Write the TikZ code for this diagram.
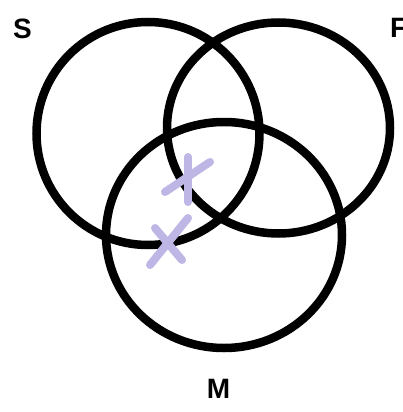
\documentclass[tikz,border=0pt]{standalone}
\usepackage{fontspec}
\setmainfont{Liberation Sans}
\definecolor{lavender}{RGB}{190,182,228}
\tikzset{
  ring/.style={line width=8.5pt},
  tick/.style={lavender,line width=8pt,line cap=round},
  setname/.style={font=\bfseries\fontsize{28}{28}\selectfont,inner sep=0pt}
}
\begin{document}
\begin{tikzpicture}[x=1pt,y=-1pt]
\useasboundingbox (0,0) rectangle (403,412);

\coordinate (cS) at (148,133.5);
\coordinate (cF) at (278.5,128);
\coordinate (cM) at (224,235);

\draw[ring] (cS) circle [radius=111.5];
\draw[ring] (cF) ellipse [x radius=111.5,y radius=105.5];
\draw[ring] (cM) ellipse [x radius=118,y radius=113];

\node[setname] (S) at (22.5,29) {S};
\node[setname,anchor=west] (F) at (390,28) {F};
\node[setname] (M) at (218.5,389) {M};

% the two marks
\coordinate (a1) at (188,157);
\coordinate (a2) at (188,202);
\coordinate (b1) at (210,162);
\coordinate (b2) at (165,192);
\coordinate (c1) at (188,218);
\coordinate (c2) at (150,265);
\coordinate (d1) at (155,228);
\coordinate (d2) at (182,260);
\draw[tick] (a1) -- (a2);
\draw[tick] (b1) -- (b2);
\draw[tick] (c1) -- (c2);
\draw[tick] (d1) -- (d2);
\end{tikzpicture}
\end{document}
